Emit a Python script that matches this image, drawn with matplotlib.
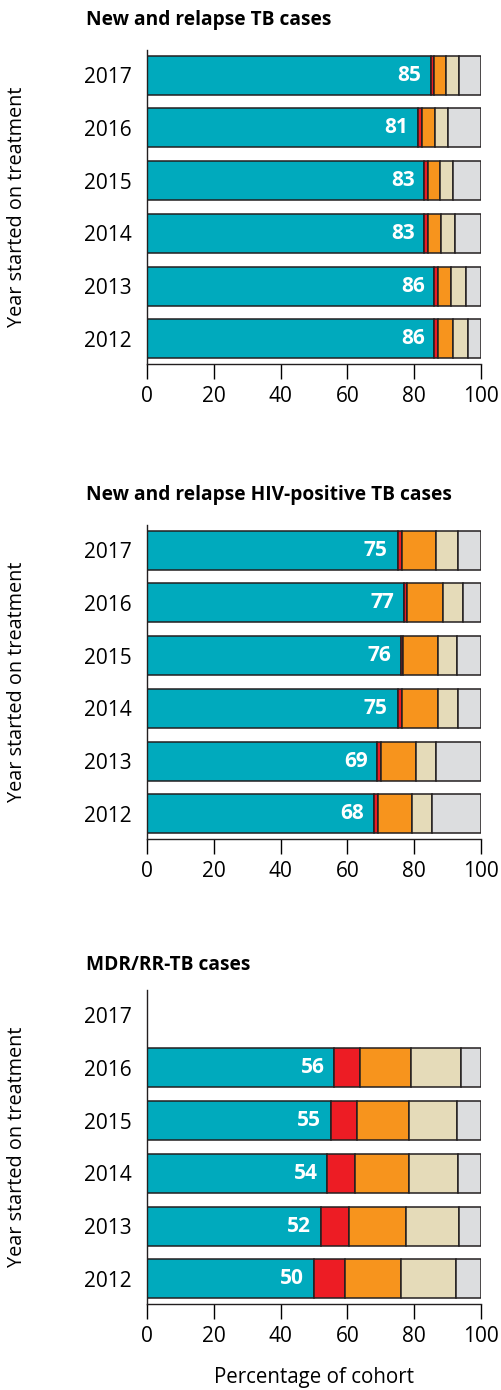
import numpy as np
import matplotlib
matplotlib.use("Agg")
import matplotlib.pyplot as plt

plt.rcParams["font.family"] = ["Open Sans", "DejaVu Sans"]

years = ["2017", "2016", "2015", "2014", "2013", "2012"]

# Treatment outcomes, % of cohort (rows follow `years`)
tb_success = [85, 81, 83, 83, 86, 86]
tb_failed = [0.8, 1.4, 1.0, 1.2, 1.2, 1.0]
tb_died = [3.7, 3.7, 3.6, 3.8, 3.8, 4.5]
tb_lost = [4.0, 4.0, 4.0, 4.2, 4.4, 4.5]

hiv_success = [75, 77, 76, 75, 69, 68]
hiv_failed = [1.2, 0.9, 0.7, 1.2, 1.0, 1.2]
hiv_died = [10.4, 10.8, 10.5, 10.8, 10.4, 10.0]
hiv_lost = [6.4, 5.8, 5.5, 6.0, 6.1, 6.0]

# no 2017 cohort reported for MDR/RR-TB yet
mdr_success = [0, 56, 55, 54, 52, 50]
mdr_failed = [0, 7.8, 8.0, 8.2, 8.6, 9.2]
mdr_died = [0, 15.1, 15.4, 16.3, 17.0, 16.8]
mdr_lost = [0, 15.0, 14.4, 14.7, 15.8, 16.5]

titles = ["New and relapse TB cases",
          "New and relapse HIV-positive TB cases",
          "MDR/RR-TB cases"]

colors = ["#00AABD", "#ED1C24", "#F7941D", "#E5DBB9", "#DCDDDF"]


def outcome_table(success, failed, died, lost):
    parts = [np.array(success, float), np.array(failed, float),
             np.array(died, float), np.array(lost, float)]
    has_data = parts[0] > 0
    not_eval = np.where(has_data, 100 - sum(parts), 0)
    return parts + [not_eval], has_data


panels = [
    outcome_table(tb_success, tb_failed, tb_died, tb_lost),
    outcome_table(hiv_success, hiv_failed, hiv_died, hiv_lost),
    outcome_table(mdr_success, mdr_failed, mdr_died, mdr_lost),
]

W, H = 501, 1390
fig = plt.figure(figsize=(W / 100, H / 100), dpi=100)

ax_left, ax_w = 147 / W, 334 / W
ax_h = 314 / H
tops = [50, 525, 990]
title_y = [20, 495, 965]

ypos = np.arange(len(years))[::-1]

for i, ((segments, has_data), top) in enumerate(zip(panels, tops)):
    ax = fig.add_axes([ax_left, 1 - (top + 314) / H, ax_w, ax_h])
    left = np.zeros(len(years))
    for seg, col in zip(segments, colors):
        ax.barh(ypos[has_data], seg[has_data], left=left[has_data], height=0.74,
                color=col, edgecolor="#231F20", linewidth=1.1)
        left = left + seg
    for y, v, ok in zip(ypos, segments[0], has_data):
        if ok:
            ax.annotate(f"{v:.0f}", xy=(v, y), xytext=(-7, 0),
                        textcoords="offset points", ha="right", va="center",
                        color="white", fontsize=15, fontweight="bold")

    ax.set_xlim(0, 100)
    ax.set_ylim(-0.48, 5.48)
    ax.set_yticks(ypos)
    ax.set_yticklabels(years)
    ax.set_xticks(range(0, 101, 20))
    ax.tick_params(axis="y", length=0, pad=11, labelsize=15)
    ax.tick_params(axis="x", length=11, width=1, pad=5, labelsize=15)
    for side in ("top", "right"):
        ax.spines[side].set_visible(False)
    for side in ("left", "bottom"):
        ax.spines[side].set_linewidth(1)
        ax.spines[side].set_color("#231F20")

    fig.text(86 / W, 1 - title_y[i] / H, titles[i], ha="left", va="center",
             fontsize=13.8, fontweight="bold")
    fig.text(17 / W, 1 - (top + 157) / H, "Year started on treatment",
             rotation=90, ha="center", va="center", fontsize=14.3)

fig.text(314 / W, 1 - 1378 / H, "Percentage of cohort", ha="center",
         va="center", fontsize=14.8)

fig.savefig("out.png", dpi=100)
